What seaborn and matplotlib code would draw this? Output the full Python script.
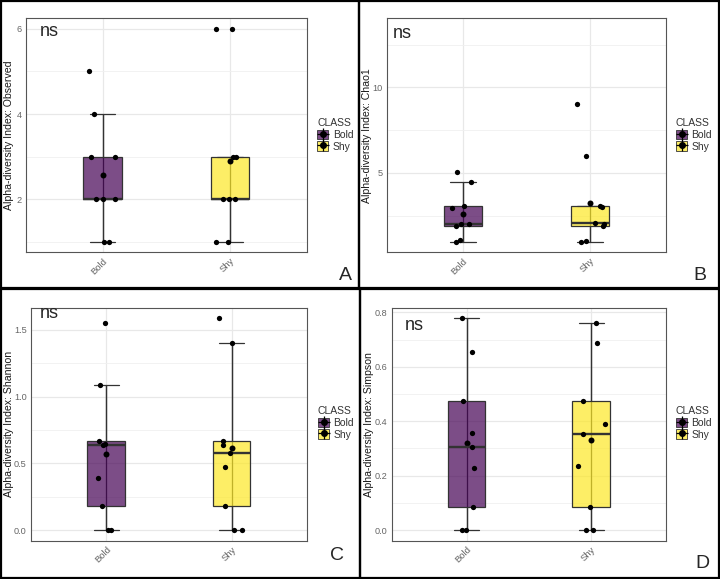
import numpy as np
import pandas as pd
import matplotlib
matplotlib.use("Agg")
import matplotlib.pyplot as plt
import matplotlib.colors as mcolors
from matplotlib import cbook
from matplotlib.patches import Patch, Rectangle
from matplotlib.lines import Line2D
from matplotlib.legend_handler import HandlerTuple
import seaborn as sns

classes = ["Bold", "Shy"]
class_colors = ["#440154", "#FDE725"]

# values per group (9 fish each)
observed_bold = [1, 1, 2, 2, 2, 3, 3, 4, 5]
observed_shy = [1, 1, 2, 2, 2, 3, 3, 6, 6]
chao1_bold = [1.0, 1.1, 1.9, 2.0, 2.05, 2.95, 3.05, 4.5, 5.05]
chao1_shy = [1.0, 1.05, 1.9, 2.05, 2.1, 3.0, 3.05, 6.0, 9.0]
shannon_bold = [0, 0, 0.18, 0.39, 0.635, 0.645, 0.67, 1.09, 1.55]
shannon_shy = [0, 0, 0.18, 0.47, 0.575, 0.635, 0.67, 1.40, 1.59]
simpson_bold = [0, 0, 0.083, 0.228, 0.305, 0.357, 0.473, 0.656, 0.778]
simpson_shy = [0, 0, 0.083, 0.235, 0.354, 0.388, 0.473, 0.686, 0.76]

W, H = 720, 579

panels = [
    dict(name="Observed", bold=observed_bold, shy=observed_shy, letter="A",
         box=(26, 18.3, 306.7, 252.3), ylim=(0.75, 6.25),
         major=[2, 4, 6], minor=[1, 3, 5], fmt="{:g}",
         ns=(49, 32), leg=(317, 118), let=(345, 276), ylab_x=14.5),
    dict(name="Chao1", bold=chao1_bold, shy=chao1_shy, letter="B",
         box=(386.7, 18.3, 666, 252.3), ylim=(0.37, 14.03),
         major=[5, 10], minor=[2.5, 7.5, 12.5], fmt="{:g}",
         ns=(402, 33), leg=(676, 118), let=(700, 275), ylab_x=371.5),
    dict(name="Shannon", bold=shannon_bold, shy=shannon_shy, letter="C",
         box=(31, 307.7, 306.7, 540.7), ylim=(-0.08, 1.667),
         major=[0, 0.5, 1.0, 1.5], minor=[0.25, 0.75, 1.25], fmt="{:.1f}",
         ns=(49, 314), leg=(318, 406), let=(337, 556), ylab_x=14),
    dict(name="Simpson", bold=simpson_bold, shy=simpson_shy, letter="D",
         box=(391.7, 307.7, 666, 540.7), ylim=(-0.039, 0.817),
         major=[0, 0.2, 0.4, 0.6, 0.8], minor=[0.1, 0.3, 0.5, 0.7], fmt="{:.1f}",
         ns=(414, 326), leg=(676, 406), let=(702, 563), ylab_x=374),
]

sns.set_style("white")
plt.rcParams["font.family"] = ["Liberation Sans", "DejaVu Sans"]
np.random.seed(3)


def whisker_range(v):
    s = cbook.boxplot_stats(np.asarray(v, dtype=float))[0]
    return s["whislo"], s["whishi"]


fig = plt.figure(figsize=(7.2, 5.79), dpi=100)

# outer frames of the four sub-figures
for x0, y0, x1, y1 in [(1, 1, 359, 288.5), (359, 1, 719, 288.5),
                       (1, 288.5, 359.5, 578), (359.5, 288.5, 719, 578)]:
    fig.add_artist(Rectangle((x0 / W, 1 - y1 / H), (x1 - x0) / W, (y1 - y0) / H,
                             transform=fig.transFigure, fill=False,
                             edgecolor="black", linewidth=1.6))

for p in panels:
    x0, y0, x1, y1 = p["box"]
    ax = fig.add_axes([x0 / W, 1 - y1 / H, (x1 - x0) / W, (y1 - y0) / H])
    df = pd.DataFrame({
        "CLASS": ["Bold"] * len(p["bold"]) + ["Shy"] * len(p["shy"]),
        "value": list(p["bold"]) + list(p["shy"]),
    })

    # whisker errorbar spanning the full whisker range (sits under the box)
    sns.pointplot(data=df, x="CLASS", y="value", order=classes,
                  estimator="median", errorbar=whisker_range, capsize=0.2,
                  color="#333333", linestyle="none", markersize=0,
                  err_kws={"linewidth": 0.9}, ax=ax)
    for ln in ax.lines:
        ln.set_zorder(1.5)

    sns.boxplot(data=df, x="CLASS", y="value", hue="CLASS", order=classes,
                hue_order=classes, palette=class_colors, saturation=1,
                width=0.3, showfliers=False, showcaps=False,
                linecolor="#333333", linewidth=0.9,
                medianprops={"linewidth": 1.7}, legend=False, ax=ax)
    for patch in ax.patches:
        fc = patch.get_facecolor()
        patch.set_facecolor((fc[0], fc[1], fc[2], 0.7))

    sns.stripplot(data=df, x="CLASS", y="value", order=classes, color="black",
                  size=3.8, jitter=0.12, linewidth=0, ax=ax, zorder=4)
    sns.pointplot(data=df, x="CLASS", y="value", order=classes,
                  estimator="mean", errorbar=None, color="black",
                  linestyle="none", markersize=4.3, markeredgewidth=0, ax=ax)

    ax.set_xlim(-0.6, 1.6)
    ax.set_ylim(*p["ylim"])
    ax.set_yticks(p["major"])
    ax.set_yticklabels([p["fmt"].format(v) for v in p["major"]])
    ax.set_yticks(p["minor"], minor=True)
    ax.set_xticks([0, 1])
    ax.set_xticklabels(classes, rotation=45, ha="right", rotation_mode="anchor",
                       fontsize=6.8)
    ax.set_axisbelow(True)
    ax.grid(True, which="major", color="#e8e8e8", linewidth=0.9)
    ax.grid(True, which="minor", axis="y", color="#f0f0f0", linewidth=0.6)
    ax.tick_params(which="minor", length=0)
    ax.tick_params(which="major", length=2.0, width=0.6, color="#333333",
                   labelcolor="#666666", pad=1.0)
    ax.tick_params(axis="y", labelsize=6.6)
    ax.set_xlabel("")
    ax.set_ylabel(f"Alpha-diversity Index: {p['name']}", fontsize=7.6,
                  color="#1a1a1a")
    ax.yaxis.set_label_coords((p["ylab_x"] - x0) / (x1 - x0), 0.5)
    for sp in ax.spines.values():
        sp.set_color("#555555")
        sp.set_linewidth(0.8)

    fig.text(p["ns"][0] / W, 1 - p["ns"][1] / H, "ns", fontsize=13,
             ha="center", va="center")
    fig.text(p["let"][0] / W, 1 - p["let"][1] / H, p["letter"], fontsize=14,
             ha="center", va="center")

    handles = []
    for c in class_colors:
        handles.append((
            Patch(facecolor=mcolors.to_rgba(c, 0.7), edgecolor="#333333", linewidth=0.6),
            Line2D([], [], color="black", marker="+", markersize=8, mew=0.9, linestyle="none"),
            Line2D([], [], color="black", marker="o", markersize=4, linestyle="none"),
        ))
    leg = fig.legend(handles=handles, labels=classes, title="CLASS",
                     handler_map={tuple: HandlerTuple(ndivide=1)},
                     loc="upper left",
                     bbox_to_anchor=(p["leg"][0] / W, 1 - p["leg"][1] / H),
                     frameon=False, fontsize=7.5, title_fontsize=7.5,
                     handlelength=1.1, handleheight=1.0, borderpad=0,
                     borderaxespad=0, labelspacing=0.15, handletextpad=0.4,
                     alignment="left")
    leg.get_title().set_color("#333333")
    for t in leg.get_texts():
        t.set_color("#333333")

fig.savefig("out.png", dpi=100)
